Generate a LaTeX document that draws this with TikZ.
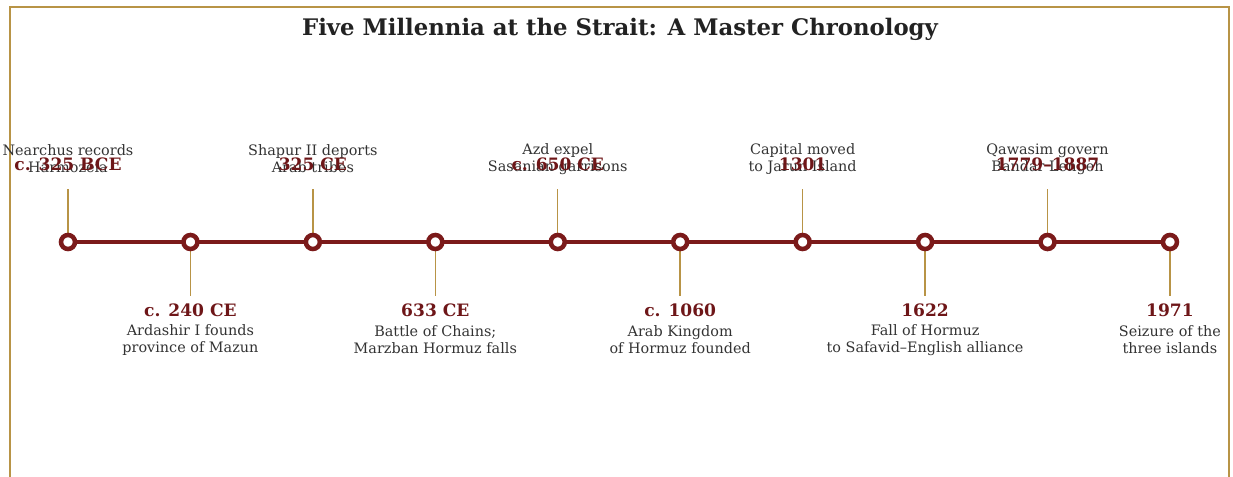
\documentclass[tikz,border=0pt]{standalone}
\usepackage{fontspec}
\setmainfont{DejaVu Serif}
\usetikzlibrary{positioning}
\definecolor{maroon}{RGB}{123,26,26}
\definecolor{datered}{RGB}{110,22,24}
\definecolor{gold}{RGB}{184,148,70}
\definecolor{inkgray}{RGB}{51,51,51}
\definecolor{titleink}{RGB}{34,34,34}
\tikzset{frame/.style={gold,line width=0.9pt}}
\tikzset{title/.style={text=titleink,font=\fontsize{17.1}{20}\selectfont\bfseries,inner sep=0pt}}
\tikzset{spine/.style={maroon,line width=3pt}}
\tikzset{marker/.style={circle,draw=maroon,line width=3.4pt,fill=white,minimum size=10.5pt,inner sep=0pt}}
\tikzset{tick/.style={gold,line width=1.1pt}}
\tikzset{datelbl/.style={text=datered,font=\fontsize{12.8}{15}\selectfont\bfseries,inner sep=0pt}}
\tikzset{desclbl/.style={text=inkgray,font=\fontsize{10.8}{12.75}\selectfont,align=center,inner sep=0pt}}
\begin{document}
\begin{tikzpicture}[x=0.75pt,y=-0.75pt]
  \useasboundingbox (0,0) rectangle (1233,477);
  % Frame and title
  \draw[frame] (10,477) -- (10,7) -- (1229,7) -- (1229,477);
  \node[title] (title) at (620,29) {Five Millennia at the Strait: A Master Chronology};

  % Spine
  \foreach \i in {0,...,9}
    \coordinate (p\i) at ({68+122.44*\i},242);
  \draw[spine] (p0) -- (p9);

  % Events above the spine
  \foreach \i/\yr/\txt in {0/{c. 325 BCE}/{Nearchus records\\Harmozeia},
                           2/{325 CE}/{Shapur II deports\\Arab tribes},
                           4/{c. 650 CE}/{Azd expel\\Sasanian garrisons},
                           6/{1301}/{Capital moved\\to Jarun Island},
                           8/{1779–1887}/{Qawasim govern\\Bandar Lengeh}}
  {
    \path (p\i) ++(0,-53) coordinate (t\i);
    \draw[tick] (p\i) -- (t\i);
    \node[marker] (dot\i) at (p\i) {};
    \path (p\i) ++(0,-83) node[desclbl] (desc\i) {\txt};
    \path (p\i) ++(0,-78) node[datelbl] (date\i) {\yr};
  }

  % Events below the spine
  \foreach \i/\yr/\txt in {1/{c. 240 CE}/{Ardashir I founds\\province of Mazun},
                           3/{633 CE}/{Battle of Chains;\\Marzban Hormuz falls},
                           5/{c. 1060}/{Arab Kingdom\\of Hormuz founded},
                           7/{1622}/{Fall of Hormuz\\to Safavid–English alliance},
                           9/{1971}/{Seizure of the\\three islands}}
  {
    \path (p\i) ++(0,54) coordinate (t\i);
    \draw[tick] (p\i) -- (t\i);
    \node[marker] (dot\i) at (p\i) {};
    \path (p\i) ++(0,68) node[datelbl] (date\i) {\yr};
    \path (p\i) ++(0,98) node[desclbl] (desc\i) {\txt};
  }
\end{tikzpicture}
\end{document}
